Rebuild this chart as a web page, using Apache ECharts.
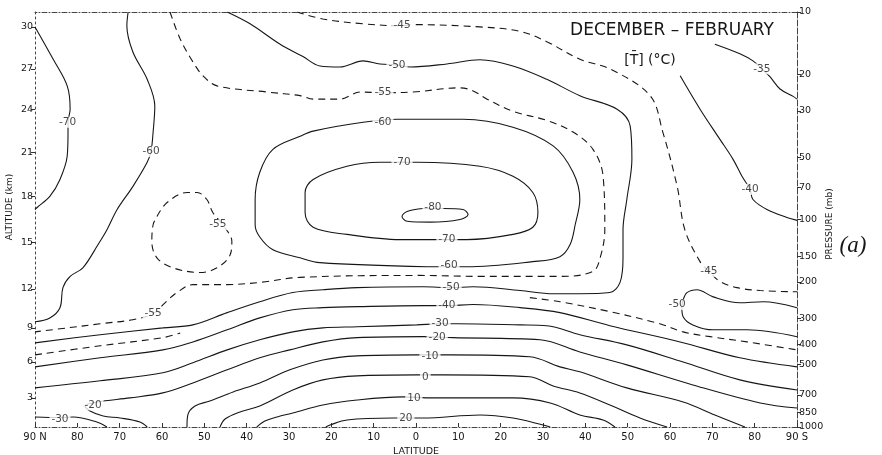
<!DOCTYPE html>
<html>
<head>
<meta charset="utf-8">
<script src="https://cdn.jsdelivr.net/npm/echarts@6/dist/echarts.min.js"></script>
<style>
html,body{margin:0;padding:0;background:#fff;}
#chart{width:882px;height:455px;}
</style>
</head>
<body>
<div id="chart"></div>
<script>
// Zonal-mean temperature [T] (°C), December–February.
// Every isotherm is a list of [latitude (°, north positive), pressure (mb)] points.

const pressureTicks = [10, 20, 30, 50, 70, 100, 150, 200, 300, 400, 500, 700, 850, 1000];
const altitudeKm = [3, 6, 9, 12, 15, 18, 21, 24, 27, 30];
const altitudePressure = [724, 486, 333, 216, 129, 77.4, 47.4, 29.4, 18.8, 11.8];

const isoM80 = [[-1.7,88.5],[2.1,91.5],[3.3,96.7],[2.1,102],[-3.3,103],[-10.4,100],[-12.3,94.6],[-11.1,89.5],[-6.4,88.5],[-1.7,88.5]];
const isoM70 = [[-7.3,125],[-12.0,125],[-22.9,118],[-27.6,109],[-28.8,92.5],[-27.6,74.1],[-22.9,61.9],[-15.1,55.4],[-0.2,53],[8.5,53],[16.3,55.4],[24.3,64.1],[26.2,74.1],[26.2,92.5],[24.3,109],[16.3,118],[3.8,125],[-7.3,125]];
const isoM60Tropic = [[-2.6,169],[-12.0,169],[-27.6,159.6],[-34.0,151],[-36.4,132],[-37.6,106],[-38.7,80.1],[-37.1,59.2],[-32.4,44.2],[-22.9,35.9],[-11.1,32.9],[4.3,32.9],[12.5,34.0],[24.3,37.5],[27.4,39.7],[33.8,45.9],[36.9,59.2],[38.0,80.1],[38.0,106],[36.9,121.5],[33.8,140],[27.4,153],[22.7,161.4],[-2.6,169]];
const isoM70Polar = [[90,11.8],[85.7,16.9],[82.4,22.7],[81.7,29.4],[82.2,34.0],[82.2,37.9],[82.4,49.6],[84.1,64.1],[86.5,77.4],[89.5,87.5],[90,89.5]];
const isoM60Polar = [[68.0,10],[68.3,11.65],[66.9,15.55],[63.5,21.1],[61.7,28.4],[62.1,37.9],[62.6,47.0],[63.5,53],[66.9,69.4],[70.6,89.5],[73.0,112],[75.1,132],[78.7,171],[81.7,188],[83.4,213],[84.1,266],[86.5,298],[90,311]];
const isoM55 = [[58.1,10],[55.7,13.5],[52.7,17.4],[50.3,20.3],[47.0,22.7],[35.2,24.3],[27.4,25.3],[24.3,26.3],[18.0,26.3],[13.2,24.3],[7.8,24.5],[0.7,24.3],[-10.4,23.2],[-13.5,24.0],[-16.8,26.3],[-22.9,30.1],[-30.9,33.3],[-37.1,37.9],[-41.8,45.9],[-44.2,61.9],[-44.6,112],[-43.5,153],[-41.8,178],[-34.0,188],[-15.1,188],[-0.9,186],[27.4,190],[36.9,201],[44.6,206],[52.7,206],[56.5,225],[59.3,252],[62.1,284],[66.9,304],[74.6,318],[82.4,333],[90,348]];
const isoM55Cell = [[61.2,96.7],[58.8,82.8],[54.1,74.1],[51.7,74.1],[49.4,80.1],[48.0,92.5],[45.5,107],[43.5,127.5],[43.9,148],[47.0,171],[51.0,180],[57.4,171],[61.2,153],[62.4,127.5],[62.1,106],[61.2,96.7]];
const isoM50 = [[44.6,10],[39.2,11.4],[32.1,14.3],[26.7,16.4],[22.7,18.2],[18.0,18.4],[12.5,17.2],[8.5,17.8],[4.5,18.0],[1.4,18.4],[-7.3,17.8],[-15.1,17.0],[-22.9,18.2],[-30.9,21.1],[-38.7,25.3],[-47.5,29.4],[-50.6,35.5],[-51.0,51.3],[-49.8,80.1],[-48.9,112],[-48.9,153],[-48.2,201],[-45.8,225],[-38.7,228],[-32.4,228],[-24.6,220],[-13.5,211],[-8.3,213],[-1.7,211],[13.9,213],[22.0,218],[29.1,225],[36.9,249],[44.6,281],[52.7,322],[59.8,333],[74.6,359],[90,393]];
const isoM50South = [[-90,266],[-82.0,249],[-76.5,252],[-70.2,236],[-66.4,218],[-64.0,225],[-63.1,244],[-62.8,266],[-63.1,294],[-65.4,322],[-70.2,340],[-78.2,340],[-90,367]];
const isoM45 = [[28.1,10],[22.0,10.8],[12.5,11.4],[3.3,11.65],[0.7,11.5],[-15.1,11.8],[-24.6,12.4],[-30.9,13.9],[-38.7,16.9],[-45.8,18.8],[-55.3,25.3],[-58.3,37.9],[-61.7,69.4],[-63.5,112],[-67.1,159.6],[-69.2,178],[-71.8,199],[-75.8,213],[-81.3,220],[-90,223]];
const isoM45North = [[90,449],[74.6,406],[59.8,371],[55.7,352]];
const isoM45South = [[-26.9,238],[-34.0,249],[-45.8,278],[-57.6,318],[-63.1,348],[-69.5,367],[-78.2,389],[-90,425]];
const isoM40 = [[90,513],[74.6,464],[59.8,425],[52.7,389],[44.6,340],[36.9,298],[29.1,272],[22.0,266],[13.9,263],[-1.7,260],[-7.3,260],[-13.5,257],[-24.6,266],[-34.0,281],[-45.8,325],[-62.4,389],[-76.5,464],[-90,513]];
const isoM40Strat = [[-62.4,20.3],[-67.1,29.4],[-71.8,41.1],[-74.9,51.3],[-77.0,61.9],[-78.9,71.6],[-79.6,80.1],[-82.9,89.5],[-87.6,97.8],[-90,101]];
const isoM35 = [[-70.6,14.3],[-76.5,15.9],[-79.6,17.2],[-81.7,18.8],[-83.6,20.5],[-86.0,23.5],[-89.1,25.5],[-90,26.3]];
const isoM30 = [[90,648],[74.6,599],[59.8,548],[52.7,490],[44.6,425],[36.9,380],[29.1,348],[22.0,333],[13.9,329],[-0.2,322],[-5.7,318],[-9.7,318],[-24.6,322],[-30.9,325],[-38.7,359],[-49.8,402],[-63.1,486],[-76.5,593],[-90,663]];
const isoM30Surface = [[90,895],[84.1,900],[81.0,895],[75.4,946],[73.0,1000]];
const isoM20 = [[63.5,1000],[65.2,946],[69.9,905],[73.9,885],[77.0,837],[78.2,792],[75.4,758],[67.6,724],[59.8,685],[52.7,613],[44.6,530],[36.9,464],[29.8,425],[22.0,389],[13.9,371],[-1.7,367],[-8.7,371],[-29.3,380],[-38.7,435],[-49.8,502],[-65.4,627],[-81.3,766],[-90,810]];
const isoM10 = [[54.1,1000],[53.9,875],[52.2,792],[48.7,749],[43.2,678],[36.9,613],[29.8,530],[22.0,475],[13.9,454],[-0.2,449],[-8.0,449],[-26.9,459],[-34.0,513],[-38.7,542],[-49.8,648],[-63.1,758],[-70.6,875],[-77.7,1000]];
const iso0 = [[46.3,1000],[45.1,915],[41.6,846],[36.9,792],[29.1,663],[22.0,593],[13.9,567],[-0.2,561],[-6.4,561],[-26.9,573],[-32.4,634],[-38.7,685],[-45.8,783],[-52.9,905],[-59.3,1000]];
const iso10 = [[37.6,1000],[35.7,936],[32.8,895],[29.1,856],[22.0,783],[13.9,741],[3.1,716],[-3.8,724],[-22.9,724],[-31.7,766],[-38.7,875],[-44.2,925],[-47.0,1000]];
const iso20 = [[21.3,1000],[20.3,978],[16.3,925],[5.4,905],[-1.7,905],[-15.1,875],[-22.9,905],[-30.0,978],[-31.7,1000]];

// In-line isotherm labels: [latitude, pressure, text]
const contourLabels = [
  [82.3,34.0,'-70'],[62.6,47.0,'-60'],[46.8,106,'-55'],[62.1,284,'-55'],
  [3.3,11.65,'-45'],[4.5,18.0,'-50'],[7.8,24.5,'-55'],[7.8,34.0,'-60'],[3.3,53,'-70'],[-4.0,87.5,'-80'],
  [-7.3,125,'-70'],[-7.8,167,'-60'],[-8.3,213,'-50'],[-7.3,260,'-40'],[-5.7,318,'-30'],[-5.0,371,'-20'],
  [-3.3,454,'-10'],[-2.2,573,'0'],[0.5,724,'10'],[2.4,905,'20'],
  [76.3,783,'-20'],[84.1,915,'-30'],[-61.7,257,'-50'],[-69.2,178,'-45'],[-78.9,71.6,'-40'],[-81.7,18.8,'-35']
];

const isotherms = [
  {id:'-80', pts:isoM80}, {id:'-70', pts:isoM70}, {id:'-60', pts:isoM60Tropic},
  {id:'-70N', pts:isoM70Polar}, {id:'-60N', pts:isoM60Polar},
  {id:'-55', pts:isoM55, dashed:true}, {id:'-55N', pts:isoM55Cell, dashed:true},
  {id:'-50', pts:isoM50}, {id:'-50S', pts:isoM50South},
  {id:'-45', pts:isoM45, dashed:true}, {id:'-45N', pts:isoM45North, dashed:true}, {id:'-45S', pts:isoM45South, dashed:true},
  {id:'-40', pts:isoM40}, {id:'-40S', pts:isoM40Strat}, {id:'-35', pts:isoM35},
  {id:'-30', pts:isoM30}, {id:'-30N', pts:isoM30Surface},
  {id:'-20', pts:isoM20}, {id:'-10', pts:isoM10}, {id:'0', pts:iso0}, {id:'10', pts:iso10}, {id:'20', pts:iso20}
];

const FONT = 'DejaVu Sans';
const INK = '#161616';
const frameLine = {show:true, onZero:false, lineStyle:{color:'#444', width:1, type:[5,2,1,2]}};

function altitudeLabel(v) {
  let best = 0, bestD = Infinity;
  altitudePressure.forEach((p, i) => {
    const d = Math.abs(Math.log(p) - Math.log(v));
    if (d < bestD) { bestD = d; best = i; }
  });
  return String(altitudeKm[best]);
}

const series = isotherms.map(c => ({
  type:'line', name:c.id, data:c.pts, xAxisIndex:0, yAxisIndex:1,
  showSymbol:false, symbol:'none', smooth:0.35, silent:true, z:2,
  lineStyle:{color:INK, width:1.1, type:c.dashed ? [7,5] : 'solid'}
}));
series.push({
  type:'scatter', name:'labels', data:contourLabels, xAxisIndex:0, yAxisIndex:1,
  symbolSize:0, silent:true, z:6,
  label:{show:true, position:'inside', formatter:p => p.data[2], color:INK, fontSize:10.5,
         fontFamily:FONT, backgroundColor:'#fff', padding:[0,2]}
});

const chart = echarts.init(document.getElementById('chart'));
chart.setOption({
  animation:false,
  backgroundColor:'#fff',
  grid:{left:35, right:85, top:12, bottom:28, containLabel:false, outerBoundsMode:'none'},
  xAxis:[{
    type:'value', min:-90, max:90, interval:10, inverse:true, position:'bottom',
    axisLine:frameLine,
    axisTick:{show:true, inside:true, length:4, lineStyle:{color:'#333'}},
    axisLabel:{formatter:v => v === 90 ? '90 N' : (v === -90 ? '90 S' : String(Math.abs(v))),
               fontSize:10, color:INK, fontFamily:FONT, margin:5},
    splitLine:{show:false},
    name:'LATITUDE', nameLocation:'middle', nameGap:18,
    nameTextStyle:{fontSize:9.5, color:INK, fontFamily:FONT}
  }, {
    type:'value', min:-90, max:90, inverse:true, position:'top',
    axisLine:frameLine, axisTick:{show:false}, axisLabel:{show:false}, splitLine:{show:false}
  }],
  yAxis:[{
    type:'log', logBase:10, min:10, max:1000, inverse:true, position:'left',
    axisLine:{show:true, onZero:false, lineStyle:{color:'#444', width:1, type:[2,3]}},
    axisTick:{show:true, length:4, customValues:altitudePressure, lineStyle:{color:'#333'}},
    axisLabel:{customValues:altitudePressure, formatter:altitudeLabel, fontSize:9.5, color:INK, fontFamily:FONT, margin:2},
    splitLine:{show:false}, minorTick:{show:false}
  }, {
    type:'log', logBase:10, min:10, max:1000, inverse:true, position:'right',
    axisLine:{show:true, onZero:false, lineStyle:{color:'#444', width:1, type:[6,2]}},
    axisTick:{show:true, length:4, customValues:pressureTicks, lineStyle:{color:'#333'}},
    axisLabel:{customValues:pressureTicks, formatter:v => String(Math.round(v)), fontSize:9.5, color:INK, fontFamily:FONT, margin:2},
    splitLine:{show:false}, minorTick:{show:false}
  }],
  graphic:[
    {type:'text', x:672, y:31, style:{text:'DECEMBER – FEBRUARY', fontSize:17, fontFamily:FONT, fill:INK, align:'center', verticalAlign:'middle'}},
    {type:'text', x:650, y:60, style:{text:'[T\u0304] (°C)', fontSize:14, fontFamily:FONT, fill:INK, align:'center', verticalAlign:'middle'}},
    {type:'text', x:853, y:246, style:{text:'(a)', fontSize:23, fontStyle:'italic', fontFamily:'Liberation Serif', fill:INK, align:'center', verticalAlign:'middle'}},
    {type:'text', x:10, y:207, rotation:Math.PI/2, style:{text:'ALTITUDE (km)', fontSize:9, fontFamily:FONT, fill:INK, align:'center', verticalAlign:'middle'}},
    {type:'text', x:830, y:224, rotation:Math.PI/2, style:{text:'PRESSURE (mb)', fontSize:9, fontFamily:FONT, fill:INK, align:'center', verticalAlign:'middle'}}
  ],
  series:series
});
</script>
</body>
</html>
